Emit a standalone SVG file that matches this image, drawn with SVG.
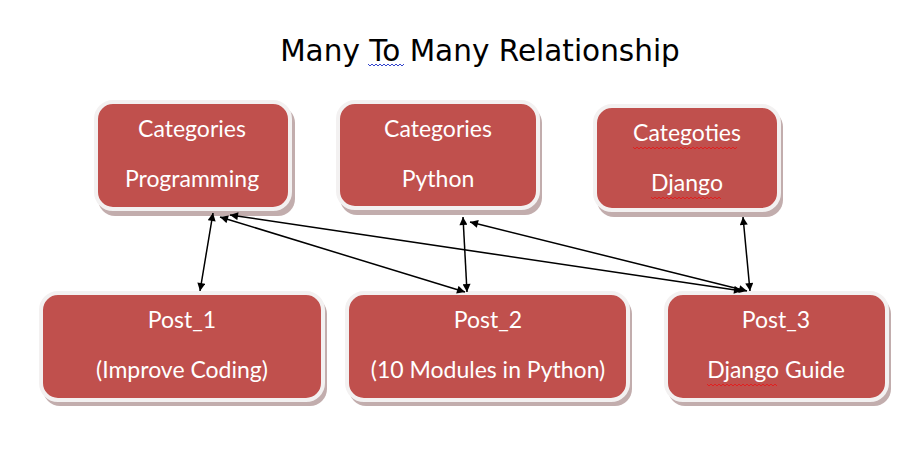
<svg xmlns="http://www.w3.org/2000/svg" width="923" height="467" viewBox="0 0 923 467">
<style>
.bg{fill:#ffffff}
.shadow{fill:#b39898;opacity:0.8}
.box{fill:#C0504D;stroke:#f3f1f1;stroke-width:4}
.t{font-family:Lato,"Open Sans","Liberation Sans",sans-serif;font-size:23px;fill:#ffffff;text-anchor:middle}
.title{font-family:"DejaVu Sans",Verdana,sans-serif;font-size:29.5px;fill:#000000;text-anchor:middle}
.conn line{stroke:#000000;stroke-width:1.5;fill:none;marker-start:url(#ah);marker-end:url(#ah)}
.sq{fill:none;stroke-width:1}
</style>
<defs>
<marker id="ah" viewBox="0 0 10 10" refX="10" refY="5" markerWidth="9" markerHeight="8" orient="auto-start-reverse" markerUnits="userSpaceOnUse">
<path d="M0,0 L10,5 L0,10 z" fill="#000000"/>
</marker>
</defs>
<rect class="bg" x="0" y="0" width="923" height="467"/>
<g id="title">
<text class="title" x="480" y="61">Many To Many Relationship</text>
<polyline class="sq" stroke="#3344cc" points="368,64 370,66 372,64 374,66 376,64 378,66 380,64 382,66 384,64 386,66 388,64 390,66 392,64 394,66 396,64 398,66 400,64 402,66 404,64"/>
</g>
<g id="cat-programming">
<rect class="shadow" x="98" y="106" width="197" height="110" rx="17"/>
<rect class="box" x="96" y="102" width="194" height="107" rx="17"/>
<text class="t" x="192" y="137">Categories</text>
<text class="t" x="192" y="187">Programming</text>
</g>
<g id="cat-python">
<rect class="shadow" x="340" y="106" width="202" height="109" rx="17"/>
<rect class="box" x="338" y="102" width="200" height="106" rx="17"/>
<text class="t" x="438" y="137">Categories</text>
<text class="t" x="438" y="187">Python</text>
</g>
<g id="cat-django">
<rect class="shadow" x="597" y="110" width="186" height="107" rx="17"/>
<rect class="box" x="595" y="106" width="184" height="104" rx="17"/>
<text class="t" x="687" y="141">Categoties</text>
<text class="t" x="687" y="191">Django</text>
<polyline class="sq" stroke="#e02020" points="633,147 635,149 637,147 639,149 641,147 643,149 645,147 647,149 649,147 651,149 653,147 655,149 657,147 659,149 661,147 663,149 665,147 667,149 669,147 671,149 673,147 675,149 677,147 679,149 681,147 683,149 685,147 687,149 689,147 691,149 693,147 695,149 697,147 699,149 701,147 703,149 705,147 707,149 709,147 711,149 713,147 715,149 717,147 719,149 721,147 723,149 725,147 727,149 729,147 731,149 733,147 735,149 737,147"/>
<polyline class="sq" stroke="#e02020" points="651,197 653,199 655,197 657,199 659,197 661,199 663,197 665,199 667,197 669,199 671,197 673,199 675,197 677,199 679,197 681,199 683,197 685,199 687,197 689,199 691,197 693,199 695,197 697,199 699,197 701,199 703,197 705,199 707,197 709,199 711,197 713,199 715,197 717,199 719,197 721,199"/>
</g>
<g id="post-1">
<rect class="shadow" x="43" y="297" width="284" height="109" rx="17"/>
<rect class="box" x="41" y="293" width="282" height="107" rx="17"/>
<text class="t" x="182" y="328">Post_1</text>
<text class="t" x="182" y="378">(Improve Coding)</text>
</g>
<g id="post-2">
<rect class="shadow" x="349" y="297" width="283" height="109" rx="17"/>
<rect class="box" x="347" y="293" width="281" height="107" rx="17"/>
<text class="t" x="488" y="328">Post_2</text>
<text class="t" x="488" y="378">(10 Modules in Python)</text>
</g>
<g id="post-3">
<rect class="shadow" x="668" y="297" width="223" height="109" rx="17"/>
<rect class="box" x="666" y="293" width="221" height="107" rx="17"/>
<text class="t" x="776" y="328">Post_3</text>
<text class="t" x="776" y="378">Django Guide</text>
<polyline class="sq" stroke="#e02020" points="707,384 709,386 711,384 713,386 715,384 717,386 719,384 721,386 723,384 725,386 727,384 729,386 731,384 733,386 735,384 737,386 739,384 741,386 743,384 745,386 747,384 749,386 751,384 753,386 755,384 757,386 759,384 761,386 763,384 765,386 767,384 769,386 771,384 773,386 775,384 777,386"/>
</g>
<g id="connectors" class="conn">
<line x1="213" y1="213" x2="200" y2="291"/>
<line x1="220" y1="217" x2="465" y2="292"/>
<line x1="230" y1="215" x2="742" y2="291"/>
<line x1="463" y1="217" x2="467" y2="292"/>
<line x1="470" y1="222" x2="747" y2="291"/>
<line x1="743" y1="217" x2="750" y2="291"/>
</g>
</svg>
